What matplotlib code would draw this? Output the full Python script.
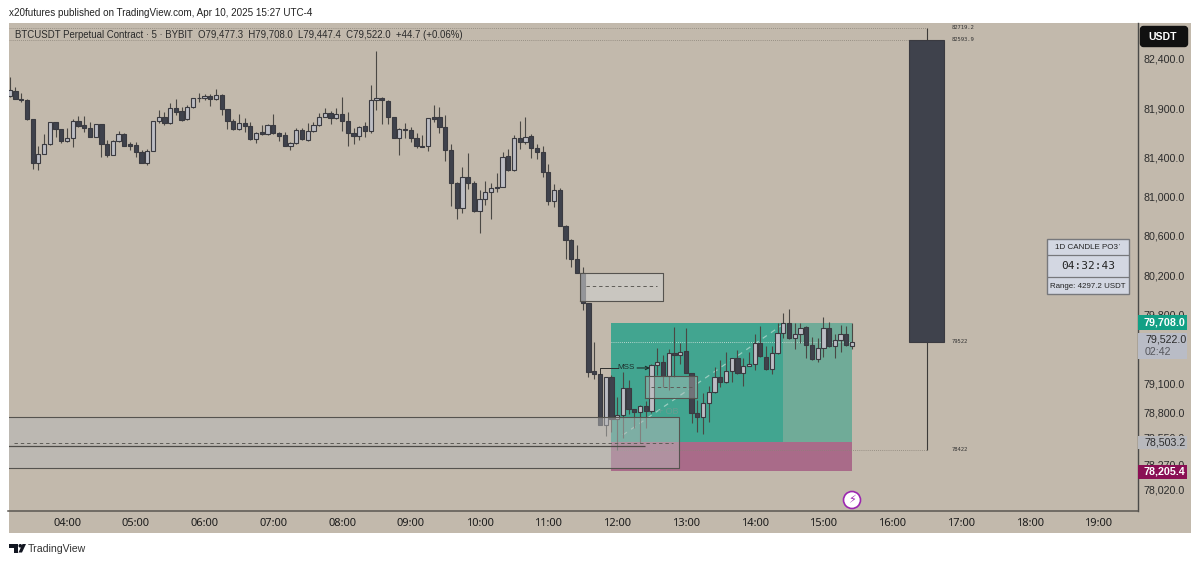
import numpy as np
import matplotlib
matplotlib.use("Agg")
import matplotlib.pyplot as plt
from matplotlib.patches import Rectangle, FancyBboxPatch, Polygon, Circle

plt.rcParams["font.family"] = ["Liberation Sans", "DejaVu Sans"]

### Data: 5 min candles, first bar is 03:10, bar 0 is 04:00
first_bar = -10
opens = [82023,82077,81996,81982,81785,81344,81432,81534,81758,81684,
         81565,81599,81765,81724,81694,81609,81734,81538,81419,81561,81639,81531,81521,81456,81344,81466,81765,81806,81751,81901,81867,81785,81907,82006,81999,82023,81989,82036,81887,81772,81684,81745,81717,81585,81653,81633,81724,81650,81622,81517,81541,81677,81575,81663,81724,81812,81853,81799,81840,81772,81643,81616,81714,81670,81982,81999,81975,81806,
         81595,81687,81677,81595,81514,81514,81809,81809,81707,81473,81137,80883,81198,81137,80852,80974,81045,81096,81096,81412,81269,81595,81554,81616,81493,81453,81249,80954,81066,80699,80557,80363,80221,79915,79223,79193,78673,79162,
         78735,78775,79050,78836,78806,78867,78816,79284,79315,79172,79406,79386,79427,79203,78796,78755,78897,79009,79162,79111,79223,79356,79203,79274,79294,79508,79366,79244,79406,79610,79712,79559,79600,79671,79488,79345,79457,79661,79478,79539,79600,79477.3]
closes = [82084,81992,81979,81785,81344,81432,81534,81762,81684,81568,
          81599,81768,81721,81694,81609,81734,81538,81419,81561,81636,81514,81517,81453,81344,81466,81768,81806,81751,81901,81863,81779,81907,81999,82002,82023,81989,82033,81887,81772,81684,81745,81717,81582,81650,81633,81724,81650,81619,81517,81541,81680,81582,81663,81724,81812,81853,81799,81840,81772,81643,81619,81711,81670,81982,82002,81979,81806,81599,
          81687,81677,81595,81514,81504,81799,81789,81707,81473,81137,80883,81198,81137,80852,80974,81045,81086,81086,81402,81269,81595,81554,81605,81493,81453,81249,80954,81066,80699,80557,80363,80221,79915,79213,79193,78673,79162,78735,
          78775,79050,78836,78806,78867,78816,79284,79315,79172,79406,79386,79417,79203,78796,78755,78897,79009,79162,79111,79223,79356,79203,79274,79294,79508,79376,79244,79406,79610,79712,79559,79600,79661,79488,79345,79457,79661,79478,79539,79600,79488,79522.0]
highs = [82213,82111,82050,81989,81785,81514,81633,81762,81758,81684,
         81694,81785,81823,81816,81762,81734,81734,81575,81575,81670,81643,81558,81558,81473,81483,81768,81880,81863,81955,81989,81907,81931,82006,82050,82043,82040,82091,82043,81887,81785,81836,81795,81762,81660,81728,81734,81840,81660,81660,81558,81694,81694,81751,81762,81846,81904,81874,81897,82016,81857,81694,81717,81762,82138,82484,82016,81982,81812,
         81697,81748,81707,81646,81626,81799,81931,81911,81829,81534,81147,81300,81442,81157,81066,81157,81137,81239,81453,81483,81626,81768,81809,81636,81534,81514,81330,81127,81086,80710,80567,80506,80282,79915,79518,79193,79162,79183,
         78958,79213,79132,78836,78877,78918,79295,79457,79386,79447,79671,79508,79661,79203,78928,78999,79071,79264,79335,79417,79356,79437,79356,79417,79600,79681,79478,79478,79712,79814,79854,79712,79712,79681,79569,79559,79773,79722,79600,79692,79681,79708.0]
lows = [82016,81992,81965,81779,81280,81270,81432,81524,81602,81541,
        81551,81500,81704,81660,81609,81602,81405,81405,81419,81555,81514,81473,81405,81337,81320,81466,81751,81728,81738,81829,81772,81779,81901,81965,81982,81921,81982,81833,81684,81677,81677,81660,81575,81548,81626,81626,81633,81565,81517,81473,81534,81575,81565,81656,81717,81806,81738,81785,81670,81517,81534,81575,81609,81643,81880,81738,81738,81592,
        81422,81595,81554,81493,81504,81463,81758,81646,81361,80903,80771,80832,81076,80842,80628,80913,80771,81045,81096,81259,81259,81483,81534,81392,81381,81198,80913,80893,80699,80363,80282,80221,79844,79162,79142,78673,78562,78602,
        78419,78541,78785,78643,78490,78643,78796,79183,79060,79030,79162,79294,79203,78694,78602,78582,78704,78999,79060,79101,79111,79193,79071,79274,79233,79366,79233,79193,79396,79559,79549,79447,79508,79355,79335,79315,79366,79468,79355,79417,79478,79447.4]

# higher timeframe candle drawn to the right of the chart
htf_bar = 150
htf_high = 82719.2
htf_top = 82593.9
htf_bottom = 79522.0
htf_low = 78422.0

# long position tool
pos_start, pos_split, pos_end = 95, 125, 137
entry_price = 78503.2
target_price = 79708.0
stop_price = 78205.4

# zones: bar from, bar to, top, bottom, middle
left_zone = (-10.2, 106.8, 78755, 78236, 78490)
fvg_zone = (89.5, 104, 80224, 79936, 80089)
ob_zone = (100.9, 110, 79172, 78948, 79060)
inner_line_price = 78460
mss_price = 79254

price_ticks = [82400, 81900, 81400, 81000, 80600, 80200, 79800, 79100, 78800, 78550, 78270, 78020]
hour_bars = list(range(0, 192, 12))
hour_labels = ["%02d:00" % h for h in range(4, 20)]

### Colours
BG = "#c2b9ac"
DARK = "#3f424c"
LIGHT = "#bcbdc4"
EDGE = "#3a3a40"
TEXT = "#2b2b2b"

### Figure, layers: back (panel) / chart / front (labels)
fig = plt.figure(figsize=(12, 5.63), dpi=100, facecolor="white")

back = fig.add_axes([0, 0, 1, 1], zorder=0)
back.set_xlim(0, 1200)
back.set_ylim(563, 0)
back.axis("off")
back.add_patch(Rectangle((8.5, 23), 1182.5, 510, fc=BG, ec="none"))

ax = fig.add_axes([8.5 / 1200, 1 - 511 / 563, (1138 - 8.5) / 1200, (511 - 23) / 563], zorder=1)
ax.patch.set_alpha(0)
ax.set_xlim(-10.21, 186.9)
ax.set_ylim(77798, 82766)
for side in ["top", "left"]:
    ax.spines[side].set_visible(False)
ax.spines["bottom"].set_color("#5a5651")
ax.spines["bottom"].set_linewidth(1.1)
ax.spines["right"].set_color("#4a4a48")
ax.spines["right"].set_linewidth(1.0)
ax.yaxis.tick_right()
ax.set_yticks(price_ticks)
ax.set_yticklabels(["{:,.1f}".format(p) for p in price_ticks], fontsize=7.7, color=TEXT)
ax.set_xticks(hour_bars)
ax.set_xticklabels(hour_labels, fontsize=8, color="#1c1c1c", family="Noto Sans")
ax.tick_params(axis="y", length=0, pad=4)
ax.tick_params(axis="x", length=0, pad=5)

### Candles
bars = np.arange(first_bar, first_bar + len(opens))
opens_a = np.array(opens, dtype=float)
closes_a = np.array(closes, dtype=float)
up = closes_a >= opens_a
ax.vlines(bars, lows, highs, color="#4a4844", lw=0.8, zorder=3)
ax.bar(bars, np.abs(closes_a - opens_a), bottom=np.minimum(opens_a, closes_a), width=0.74,
       color=[LIGHT if u else DARK for u in up], edgecolor=EDGE, linewidth=0.8, zorder=4)

# 1D candle
ax.vlines(htf_bar, htf_low, htf_high, color="#3c3a38", lw=0.8, zorder=3)
ax.bar(htf_bar, htf_top - htf_bottom, bottom=htf_bottom, width=6, color=DARK, edgecolor=EDGE, linewidth=0.8, zorder=4)
for price, label in [(htf_high, "82719.2"), (htf_top, "82593.9"), (htf_bottom, "79522"), (htf_low, "78422")]:
    ax.text(154.3, price, label, fontsize=4, family="DejaVu Sans Mono", va="center", color="#333333")
ax.hlines([htf_high, htf_top], -10.21, htf_bar, color="#8a8378", lw=0.6, linestyles=(0, (1, 1.5)), zorder=2)
ax.hlines(htf_low, pos_start, htf_bar, color="#8a8378", lw=0.6, linestyles=(0, (1, 1.5)), zorder=2)

### Position tool
ax.add_patch(Rectangle((pos_start, entry_price), pos_split - pos_start, target_price - entry_price, fc="#42a590", ec="none", zorder=1))
ax.add_patch(Rectangle((pos_split, entry_price), pos_end - pos_split, target_price - entry_price, fc="#70ab98", ec="none", zorder=1))
ax.add_patch(Rectangle((pos_start, stop_price), pos_end - pos_start, entry_price - stop_price, fc="#a96b89", ec="none", zorder=1))
ax.hlines(htf_bottom, pos_start, pos_end, color="#d8e6e0", lw=0.6, linestyles=(0, (1, 1.5)), zorder=2)
ax.plot([97, pos_split], [78572, 79700], color="#d5e8e0", lw=0.9, ls=(0, (4, 4)), alpha=0.6, zorder=2)

### Zones sit on top of the candles
for zone, fill, alpha in [(left_zone, "#b8b8b8", 0.5), (fvg_zone, "#cfcfcf", 0.6), (ob_zone, "#bdbdbd", 0.4)]:
    x0, x1, top, bottom, mid = zone
    ax.add_patch(Rectangle((x0, bottom), x1 - x0, top - bottom, fc=fill, alpha=alpha, ec="none", zorder=5))
    ax.plot([x0, x1, x1, x0], [top, top, bottom, bottom], color="#55534f", lw=0.8, zorder=5)
    if x0 > 0:
        ax.plot([x0, x0], [bottom, top], color="#55534f", lw=0.8, zorder=5)
    ax.hlines(mid, x0 + 1, x1 - 1, color="#5e5c57", lw=0.7, linestyles=(0, (3.5, 3)), zorder=5)
ax.hlines(inner_line_price, -10.21, 100.9, color="#4e4c48", lw=0.9, zorder=5)

### MSS and OB
ax.plot([93, 93, 96.2], [79193, mss_price, mss_price], color="#2e2e2e", lw=0.7, zorder=6)
ax.text(97.5, mss_price, "MSS", fontsize=5.8, color="#1e2e2b", ha="center", va="center", zorder=6)
ax.annotate("", xy=(102.2, mss_price), xytext=(99, mss_price),
            arrowprops=dict(arrowstyle="->", color="#1e2e2b", lw=0.8, mutation_scale=6), zorder=6)
ax.text(105, 78815, "+ OB", fontsize=6.5, color="#6a9c90", ha="center", va="center", zorder=6)

### Front layer
front = fig.add_axes([0, 0, 1, 1], zorder=2)
front.patch.set_alpha(0)
front.set_xlim(0, 1200)
front.set_ylim(563, 0)
front.axis("off")

front.text(9, 13, "x20futures published on TradingView.com, Apr 10, 2025 15:27 UTC-4", fontsize=7.1, color="#222222", va="center")
front.text(15, 35.5, "BTCUSDT Perpetual Contract · 5 · BYBIT  O79,477.3  H79,708.0  L79,447.4  C79,522.0  +44.7 (+0.06%)",
           fontsize=6.9, color="#2a2a2a", va="center")

# unit button
front.add_patch(FancyBboxPatch((1140.5, 26.5), 47, 20, boxstyle="round,pad=0,rounding_size=3", fc="#111111", ec="#111111", lw=1))
front.text(1148, 36.5, "USDT", fontsize=7.6, color="white", weight="bold", va="center")

# price labels
price_boxes = [("79,708.0", 315, 329.5, "#12a085", "white", "bold"),
               ("78,205.4", 465, 479, "#8a0f54", "white", "bold"),
               ("78,503.2", 436, 449, "#b8b9bd", TEXT, "normal")]
for label, y0, y1, fill, color, weight in price_boxes:
    front.add_patch(Rectangle((1138, y0), 49, y1 - y0, fc=fill, ec="none"))
    front.text(1144, (y0 + y1) / 2, label, fontsize=7.7, color=color, weight=weight, va="center")
front.add_patch(Rectangle((1138, 333), 49, 26, fc="#b9bcc6", ec="none"))
front.text(1145, 340, "79,522.0", fontsize=7.7, color=TEXT, va="center")
front.text(1145, 352, "02:42", fontsize=7.7, color="#55565c", va="center")

# countdown widget
front.add_patch(Rectangle((1047, 239), 82, 55, fc="#d3d7e2", ec="#77787c", lw=1))
front.hlines([255, 277], 1047, 1129, color="#77787c", lw=0.9)
front.text(1088, 247.5, "1D CANDLE PO3\u02c8", fontsize=5.8, color="#222222", ha="center", va="center")
front.text(1088, 266, "04:32:43", fontsize=8, family="DejaVu Sans Mono", color="#222222", ha="center", va="center")
front.text(1088, 286, "Range: 4297.2 USDT", fontsize=5.7, color="#222222", ha="center", va="center")

# lightning badge
front.add_patch(Circle((852, 500), 8.5, fc="white", ec="#9c27b0", lw=1.2))
front.text(852, 500, "\u26a1", fontsize=8, color="#9c27b0", family="DejaVu Sans", ha="center", va="center")

# TradingView logo
front.add_patch(Polygon([(8.5, 544), (18, 544), (18, 552.5), (13.5, 552.5), (13.5, 547.5), (8.5, 547.5)], fc="#131722", ec="none"))
front.add_patch(Circle((20.3, 545.8), 1.8, fc="#131722", ec="none"))
front.add_patch(Polygon([(22.5, 544), (26, 544), (22, 552.5), (18.5, 552.5)], fc="#131722", ec="none"))
front.text(28, 548.5, "TradingView", fontsize=7.6, color="#333333", va="center")

fig.savefig("out.png", dpi=100)
